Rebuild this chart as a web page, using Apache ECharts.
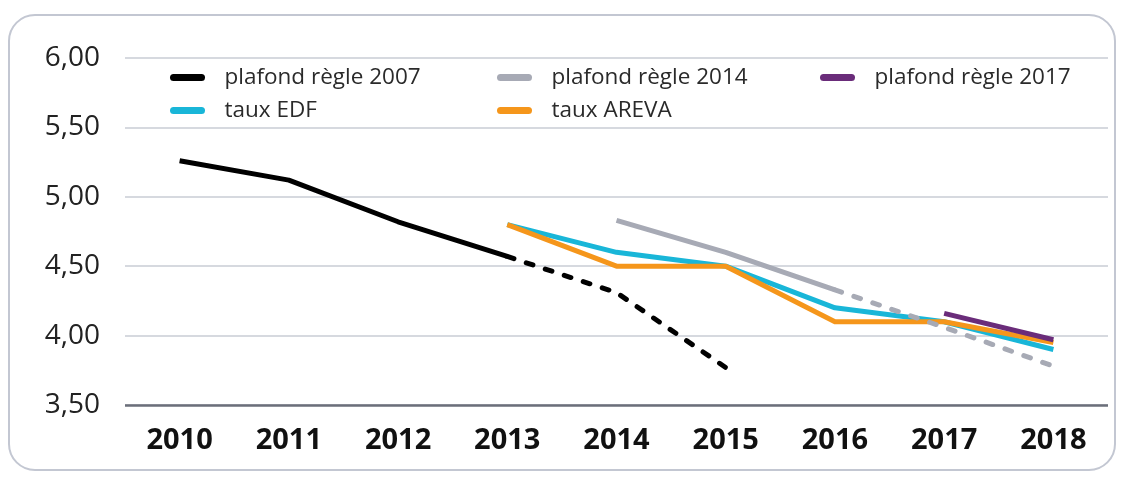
<!DOCTYPE html>
<html><head><meta charset="utf-8">
<script src="https://cdn.jsdelivr.net/npm/echarts@6/dist/echarts.min.js"></script>
<style>html,body{margin:0;padding:0;background:#fff}#c{width:1128px;height:477px}</style>
</head><body><div id="c"></div>
<script>
var years = ['2010','2011','2012','2013','2014','2015','2016','2017','2018'];
var plafond2007 = [5.26, 5.12, 4.82, 4.57, null, null, null, null, null];
var plafond2007Proj = [null, null, null, 4.57, 4.31, 3.77, null, null, null];
var plafond2014 = [null, null, null, null, 4.83, 4.60, 4.33, null, null];
var plafond2014Proj = [null, null, null, null, null, null, 4.33, 4.06, 3.78];
var plafond2017 = [null, null, null, null, null, null, null, 4.16, 3.97];
var tauxEDF = [null, null, null, 4.80, 4.60, 4.50, 4.20, 4.10, 3.90];
var tauxAREVA = [null, null, null, 4.80, 4.50, 4.50, 4.10, 4.10, 3.95];

var C = {k:'#000000', g:'#a7aab5', p:'#6a2c7a', e:'#19b6d8', a:'#f5961b'};
var pill = 'path://M4,0 L36,0 A4,4 0 0 1 36,8 L4,8 A4,4 0 0 1 4,0 Z';
function ln(name, data, color, dashed, z){
  return {name:name, type:'line', data:data, symbol:'none', z:z, connectNulls:false,
    lineStyle:{color:color, width:5, type: dashed ? [7,13] : 'solid', cap: dashed ? 'round':'butt', join:'round'},
    itemStyle:{color:color}, emphasis:{disabled:true}, animation:false};
}
var legendBase = {orient:'vertical', icon:pill, itemWidth:40, itemHeight:7, itemGap:10, padding:0,
  textStyle:{fontFamily:'Open Sans', fontSize:22.5, color:'#2a2a2a', padding:[0,0,0,12]}, selectedMode:false};
var chart = echarts.init(document.getElementById('c'));
chart.setOption({
  animation:false,
  graphic:[{type:'rect', shape:{x:9, y:15, width:1106, height:455, r:26}, style:{fill:'none', stroke:'#c3c7d2', lineWidth:2}, z:-1}],
  legend:[
    Object.assign({left:170, top:66, data:['plafond règle 2007','taux EDF']}, legendBase),
    Object.assign({left:497, top:66, data:['plafond règle 2014','taux AREVA']}, legendBase),
    Object.assign({left:820, top:66, data:['plafond règle 2017']}, legendBase)
  ],
  grid:{left:125, right:20, top:58, bottom:72},
  xAxis:{type:'category', data:years, boundaryGap:true,
    axisLine:{show:false}, axisTick:{show:false},
    axisLabel:{fontFamily:'Open Sans', fontWeight:'bold', fontSize:29, color:'#111', margin:21}},
  yAxis:{type:'value', min:3.5, max:6.0, interval:0.5,
    axisLine:{show:false}, axisTick:{show:false},
    axisLabel:{fontFamily:'Open Sans', fontSize:28, color:'#222', margin:25,
      formatter:function(v){return v.toFixed(2).replace('.', ',');}},
    splitLine:{lineStyle:{color:'#c9ccd4', width:1.5}}},
  series:[
    ln('taux EDF', tauxEDF, C.e, false, 2),
    ln('taux AREVA', tauxAREVA, C.a, false, 3),
    ln('plafond règle 2014', plafond2014, C.g, false, 4),
    ln('plafond règle 2014 (proj.)', plafond2014Proj, C.g, true, 4),
    ln('plafond règle 2007', plafond2007, C.k, false, 5),
    ln('plafond règle 2007 (proj.)', plafond2007Proj, C.k, true, 5),
    ln('plafond règle 2017', plafond2017, C.p, false, 6),
    {type:'line', data:[], markLine:{silent:true, symbol:'none', label:{show:false},
      lineStyle:{color:'#6b6f7a', width:2.5, type:'solid'}, data:[{yAxis:3.5}]}}
  ]
});
</script></body></html>
